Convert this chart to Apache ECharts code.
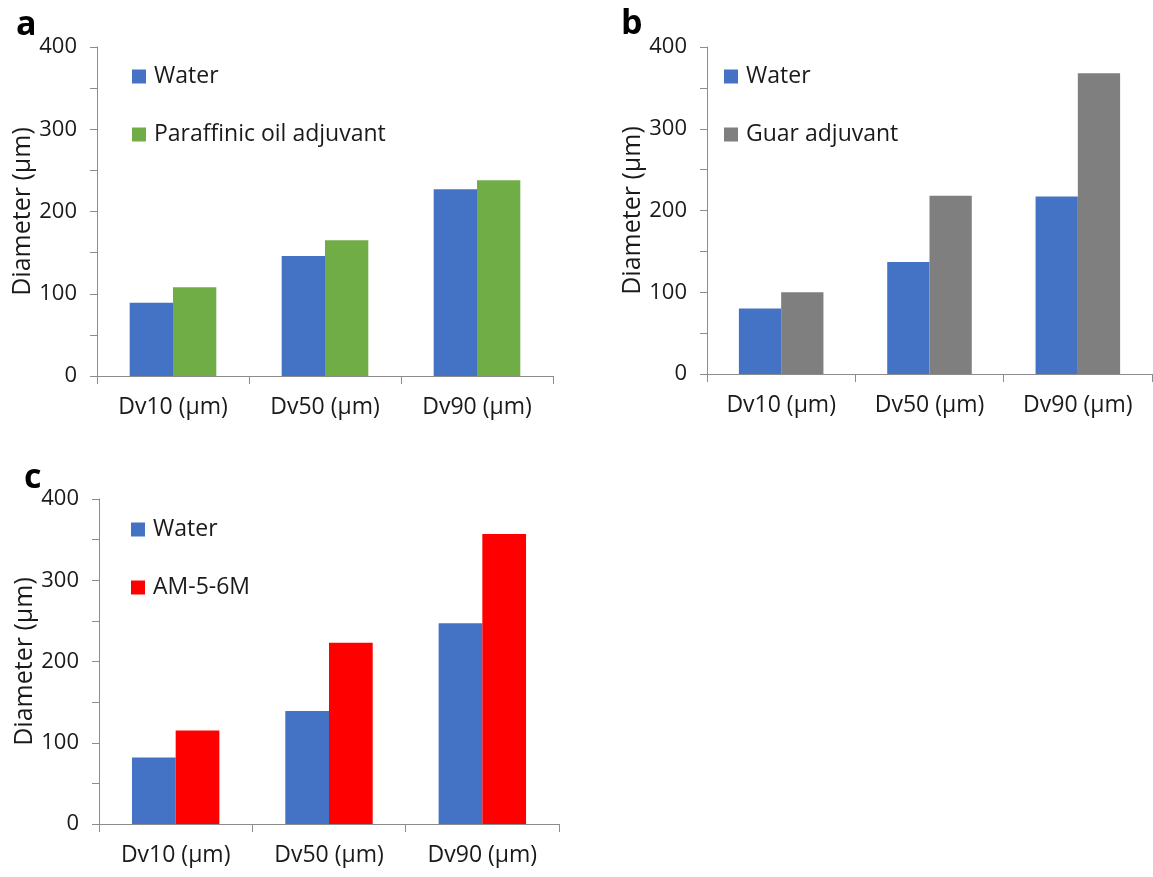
<!DOCTYPE html>
<html>
<head>
<meta charset="utf-8">
<script src="https://cdn.jsdelivr.net/npm/echarts@6/dist/echarts.min.js"></script>
<style>
html,body{margin:0;padding:0;background:#fff;}
#chart{width:1153px;height:877px;}
</style>
</head>
<body>
<div id="chart"></div>
<script>
const categories = ['Dv10 (µm)', 'Dv50 (µm)', 'Dv90 (µm)'];
const yTicks = [0, 100, 200, 300, 400];

const waterA = [89, 146, 227];
const paraffinicA = [108, 165, 238];
const waterB = [80, 137, 217];
const guarB = [100, 218, 368];
const waterC = [82, 139, 247];
const amC = [115, 223, 357];

const panelLabels = ['a', 'b', 'c'];
const seriesNames = {
  a: ['Water', 'Paraffinic oil adjuvant'],
  b: ['Water', 'Guar adjuvant'],
  c: ['Water', 'AM-5-6M']
};

const FONT = 'Open Sans';
const TXT = '#1a1a1a';
const AX = '#8c8c8c';
const COLORS = { water: '#4472C4', paraffinic: '#70AD47', guar: '#7F7F7F', am: '#FF0000' };

const grids = [
  { left: 97, top: 47, width: 456, height: 329 },
  { left: 707, top: 47, width: 445, height: 327 },
  { left: 99, top: 499, width: 460, height: 325 }
];

function xAxisFor(i) {
  return {
    type: 'category', gridIndex: i, data: categories,
    boundaryGap: true,
    axisLine: { lineStyle: { color: AX, width: 1 } },
    axisTick: { show: true, length: 8, lineStyle: { color: AX } },
    axisLabel: { color: TXT, fontFamily: FONT, fontSize: 23, margin: 20 }
  };
}
function yAxisFor(i) {
  return {
    type: 'value', gridIndex: i, min: 0, max: 400, interval: 50,
    name: 'Diameter (µm)', nameLocation: 'middle', nameGap: 62,
    nameTextStyle: { color: TXT, fontFamily: FONT, fontSize: 25 },
    axisLine: { show: true, lineStyle: { color: AX, width: 1 } },
    axisTick: { show: true, length: 7, lineStyle: { color: AX } },
    splitLine: { show: false },
    axisLabel: {
      color: TXT, fontFamily: FONT, fontSize: 22, margin: 20,
      formatter: v => (yTicks.indexOf(v) >= 0 ? String(v) : '')
    }
  };
}
function bar(name, data, i, color) {
  return {
    type: 'bar', name: name, data: data, xAxisIndex: i, yAxisIndex: i,
    itemStyle: { color: color },
    barGap: '0%', barCategoryGap: '43%',
    emphasis: { disabled: true }
  };
}
function legendFor(names, left, top) {
  return {
    data: names, orient: 'vertical', left: left, top: top, padding: 0,
    icon: 'rect', itemWidth: 14, itemHeight: 14, itemGap: 35,
    textStyle: { color: TXT, fontFamily: FONT, fontSize: 23, padding: [0, 0, 0, 3] },
    selectedMode: false
  };
}

const option = {
  animation: false,
  backgroundColor: '#fff',
  title: [
    { text: panelLabels[0], left: 11, top: 3, textStyle: { fontFamily: FONT, fontWeight: 'bold', fontSize: 34, color: '#000' } },
    { text: panelLabels[1], left: 616, top: 2, textStyle: { fontFamily: FONT, fontWeight: 'bold', fontSize: 34, color: '#000' } },
    { text: panelLabels[2], left: 19, top: 456, textStyle: { fontFamily: FONT, fontWeight: 'bold', fontSize: 34, color: '#000' } }
  ],
  legend: [
    legendFor(seriesNames.a, 132, 65),
    legendFor(seriesNames.b, 724, 65),
    legendFor(seriesNames.c, 131, 518)
  ],
  grid: grids,
  xAxis: [xAxisFor(0), xAxisFor(1), xAxisFor(2)],
  yAxis: [yAxisFor(0), yAxisFor(1), yAxisFor(2)],
  series: [
    bar(seriesNames.a[0], waterA, 0, COLORS.water),
    bar(seriesNames.a[1], paraffinicA, 0, COLORS.paraffinic),
    bar(seriesNames.b[0], waterB, 1, COLORS.water),
    bar(seriesNames.b[1], guarB, 1, COLORS.guar),
    bar(seriesNames.c[0], waterC, 2, COLORS.water),
    bar(seriesNames.c[1], amC, 2, COLORS.am)
  ]
};
const chart = echarts.init(document.getElementById('chart'), null, { renderer: 'canvas' });
chart.setOption(option);
</script>
</body>
</html>
